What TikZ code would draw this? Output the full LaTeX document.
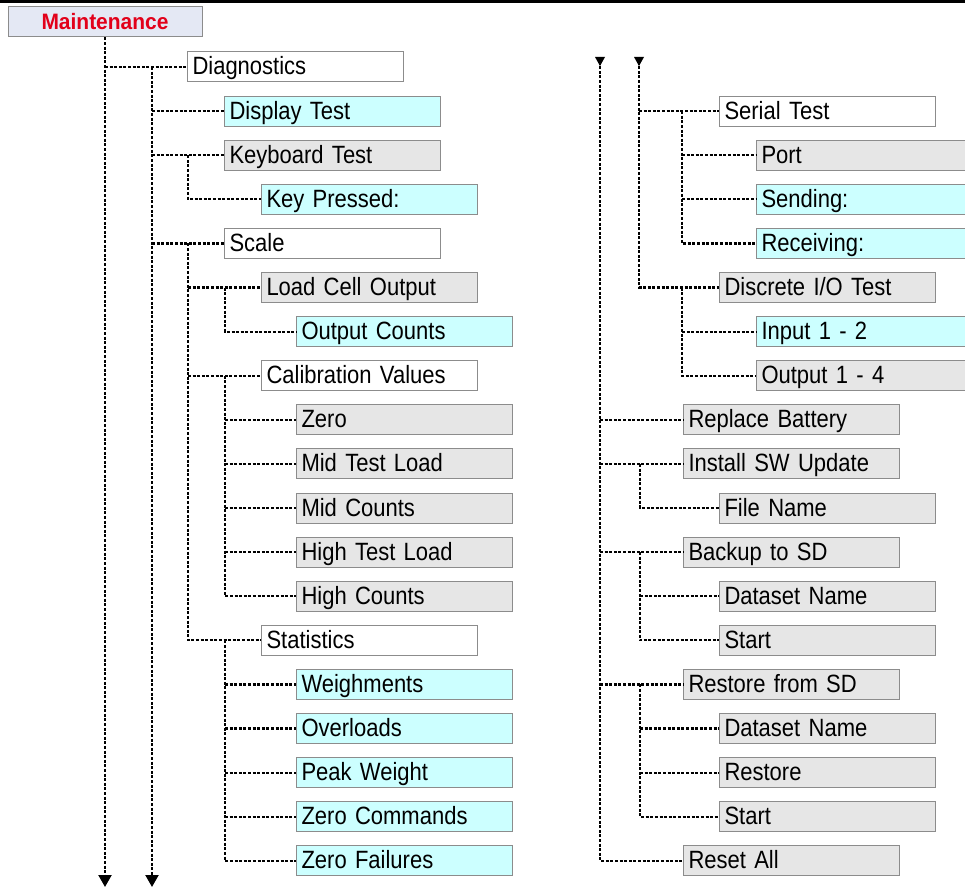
\documentclass[tikz,border=0pt]{standalone}
\usepackage{fontspec}
\setmainfont[FakeStretch=0.88]{Liberation Sans}
\newfontfamily\mfont[FakeStretch=0.94]{Liberation Sans}
\newcommand\boxfont{\fontsize{25}{28}\selectfont\spaceskip=5.5pt\relax}
\usetikzlibrary{arrows.meta}
\definecolor{cyanbox}{HTML}{CCFFFF}
\definecolor{graybox}{HTML}{E6E6E6}
\definecolor{mainbox}{HTML}{E4E8F4}
\definecolor{bordergray}{HTML}{8C8C8C}
\definecolor{mainred}{HTML}{E2001A}
\begin{document}
\begin{tikzpicture}[x=1pt,y=-1pt,
  box/.style={draw=bordergray, line width=1pt, anchor=west, minimum height=30pt,
    text width=206pt, inner xsep=5pt, inner ysep=0pt, align=left,
    text height=18pt, text depth=2pt, font=\boxfont},
  wbox/.style={box, fill=white},
  cbox/.style={box, fill=cyanbox},
  gbox/.style={box, fill=graybox},
  conn/.style={line width=2.2pt, dash pattern=on 3pt off 1.6pt},
  downtip/.style={-{Triangle[width=13pt,length=12pt]}}
]
\useasboundingbox (0,0) rectangle (965,888);
\fill[black] (0,0) rectangle (965,3);

% Maintenance
\node[draw=bordergray, fill=mainbox, line width=1pt, minimum width=194pt, minimum height=30pt,
  inner sep=0pt, text height=16pt, text depth=1pt, text=mainred,
  font=\mfont\fontsize{22.3}{25}\selectfont\bfseries] (maint) at (105,22) {Maintenance};

% left column
\node[wbox] (diag)   at (187,67)    {Diagnostics};
\node[cbox] (disp)   at (224,111.1) {Display Test};
\node[gbox] (kbd)    at (224,155.2) {Keyboard Test};
\node[cbox] (keyp)   at (261,199.3) {Key Pressed:};
\node[wbox] (scale)  at (224,243.4) {Scale};
\node[gbox] (lco)    at (261,287.5) {Load Cell Output};
\node[cbox] (outc)   at (296,331.6) {Output Counts};
\node[wbox] (calv)   at (261,375.7) {Calibration Values};
\node[gbox] (zero)   at (296,419.8) {Zero};
\node[gbox] (midtl)  at (296,463.9) {Mid Test Load};
\node[gbox] (midc)   at (296,508)   {Mid Counts};
\node[gbox] (hightl) at (296,552.1) {High Test Load};
\node[gbox] (highc)  at (296,596.2) {High Counts};
\node[wbox] (stat)   at (261,640.3) {Statistics};
\node[cbox] (wgh)    at (296,684.4) {Weighments};
\node[cbox] (ovl)    at (296,728.5) {Overloads};
\node[cbox] (peak)   at (296,772.6) {Peak Weight};
\node[cbox] (zcmd)   at (296,816.7) {Zero Commands};
\node[cbox] (zfail)  at (296,860.8) {Zero Failures};

% right column
\node[wbox] (ser)    at (719,111.1) {Serial Test};
\node[gbox] (port)   at (756,155.2) {Port};
\node[cbox] (send)   at (756,199.3) {Sending:};
\node[cbox] (recv)   at (756,243.4) {Receiving:};
\node[gbox] (dio)    at (719,287.5) {Discrete I/O Test};
\node[cbox] (in12)   at (756,331.6) {Input 1 - 2};
\node[gbox] (out14)  at (756,375.7) {Output 1 - 4};
\node[gbox] (repb)   at (683,419.8) {Replace Battery};
\node[gbox] (isw)    at (683,463.9) {Install SW Update};
\node[gbox] (fname)  at (719,508)   {File Name};
\node[gbox] (bksd)   at (683,552.1) {Backup to SD};
\node[gbox] (ds1)    at (719,596.2) {Dataset Name};
\node[gbox] (start1) at (719,640.3) {Start};
\node[gbox] (rssd)   at (683,684.4) {Restore from SD};
\node[gbox] (ds2)    at (719,728.5) {Dataset Name};
\node[gbox] (rest)   at (719,772.6) {Restore};
\node[gbox] (start2) at (719,816.7) {Start};
\node[gbox] (reset)  at (683,860.8) {Reset All};

% coordinates for trunks and branches
\coordinate (b1) at (105,887);
\coordinate (t2) at (152,67);
\coordinate (b2) at (152,887);
\coordinate (kx) at (188,0);
\coordinate (lx) at (225,0);
\coordinate (r1top) at (600,57);
\coordinate (r2top) at (639,57);
\coordinate (sx) at (682,0);
\coordinate (ix) at (640,0);

% left trunks
\draw[conn,downtip] (maint.south) -- (b1);
\draw[conn] (maint.south |- diag.west) -- (diag.west);
\draw[conn,downtip] (t2) -- (b2);
\draw[conn] (t2 |- disp.west) -- (disp.west);
\draw[conn] (t2 |- kbd.west) -- (kbd.west);
\draw[conn] (t2 |- scale.west) -- (scale.west);
% keyboard branch
\draw[conn] (kx |- kbd.west) -- (kx |- keyp.west) -- (keyp.west);
% scale branch
\draw[conn] (kx |- scale.west) -- (kx |- stat.west) -- (stat.west);
\draw[conn] (kx |- lco.west) -- (lco.west);
\draw[conn] (kx |- calv.west) -- (calv.west);
% load cell branch
\draw[conn] (lx |- lco.west) -- (lx |- outc.west) -- (outc.west);
% calibration branch
\draw[conn] (lx |- calv.west) -- (lx |- highc.west) -- (highc.west);
\draw[conn] (lx |- zero.west) -- (zero.west);
\draw[conn] (lx |- midtl.west) -- (midtl.west);
\draw[conn] (lx |- midc.west) -- (midc.west);
\draw[conn] (lx |- hightl.west) -- (hightl.west);
% statistics branch
\draw[conn] (lx |- stat.west) -- (lx |- zfail.west) -- (zfail.west);
\draw[conn] (lx |- wgh.west) -- (wgh.west);
\draw[conn] (lx |- ovl.west) -- (ovl.west);
\draw[conn] (lx |- peak.west) -- (peak.west);
\draw[conn] (lx |- zcmd.west) -- (zcmd.west);

% right trunks
\fill (r1top) +(-5,0) -- +(5,0) -- +(0,9) -- cycle;
\fill (r2top) +(-5,0) -- +(5,0) -- +(0,9) -- cycle;
\draw[conn] (r1top) -- (r1top |- reset.west) -- (reset.west);
\draw[conn] (r2top) -- (r2top |- dio.west) -- (dio.west);
\draw[conn] (r2top |- ser.west) -- (ser.west);
\draw[conn] (r1top |- repb.west) -- (repb.west);
\draw[conn] (r1top |- isw.west) -- (isw.west);
\draw[conn] (r1top |- bksd.west) -- (bksd.west);
\draw[conn] (r1top |- rssd.west) -- (rssd.west);
% serial test branch
\draw[conn] (sx |- ser.west) -- (sx |- recv.west) -- (recv.west);
\draw[conn] (sx |- port.west) -- (port.west);
\draw[conn] (sx |- send.west) -- (send.west);
% discrete branch
\draw[conn] (sx |- dio.west) -- (sx |- out14.west) -- (out14.west);
\draw[conn] (sx |- in12.west) -- (in12.west);
% install branch
\draw[conn] (ix |- isw.west) -- (ix |- fname.west) -- (fname.west);
% backup branch
\draw[conn] (ix |- bksd.west) -- (ix |- start1.west) -- (start1.west);
\draw[conn] (ix |- ds1.west) -- (ds1.west);
% restore branch
\draw[conn] (ix |- rssd.west) -- (ix |- start2.west) -- (start2.west);
\draw[conn] (ix |- ds2.west) -- (ds2.west);
\draw[conn] (ix |- rest.west) -- (rest.west);
\end{tikzpicture}
\end{document}
